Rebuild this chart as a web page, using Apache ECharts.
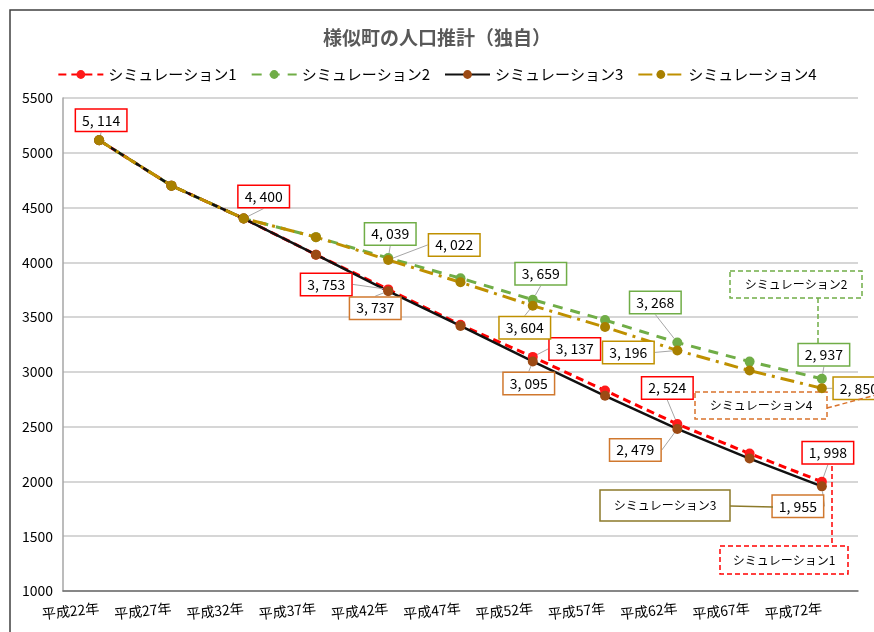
<!DOCTYPE html>
<html>
<head>
<meta charset="utf-8">
<script src="https://cdn.jsdelivr.net/npm/echarts@6/dist/echarts.min.js"></script>
<style>
  html, body { margin: 0; padding: 0; background: #fff; }
  #chart { width: 874px; height: 632px; }
</style>
</head>
<body>
<div id="chart"></div>
<script>
// categories and series values
const years = ['平成22年', '平成27年', '平成32年', '平成37年', '平成42年', '平成47年',
               '平成52年', '平成57年', '平成62年', '平成67年', '平成72年'];
const sim1 = [5114, 4700, 4400, 4070, 3753, 3430, 3137, 2830, 2524, 2254, 1998];
const sim2 = [5114, 4700, 4400, 4230, 4039, 3855, 3659, 3473, 3268, 3094, 2937];
const sim3 = [5114, 4700, 4400, 4070, 3737, 3420, 3095, 2782, 2479, 2209, 1955];
const sim4 = [5114, 4700, 4400, 4230, 4022, 3818, 3604, 3409, 3196, 3012, 2850];
const names = ['シミュレーション1', 'シミュレーション2', 'シミュレーション3', 'シミュレーション4'];

// label offsets (box centre relative to point), per series / data index
const labelPos = [
    {0: [2, -20], 2: [20, -22], 4: [-62, -5], 6: [42, -8], 8: [-10, -36], 10: [6, -29]},
    {4: [2, -24], 6: [8, -26], 8: [-22, -40], 10: [2, -24]},
    {4: [-13, 17], 6: [-4, 22], 8: [-42, 21], 10: [-24, 20]},
    {4: [66, -15], 6: [-8, 22], 8: [-49, 2], 10: [37, 0]}
];
const boxColors = ['#ff0000', '#70ad47', '#d0782e', '#bf9000'];

const FONT = '"Noto Sans CJK JP", "Noto Sans", sans-serif';

function fmt(v) {
    return v.toLocaleString('en-US').replace(',', ', ');
}

function makeData(values, si) {
    return values.map(function (v, i) {
        if (!labelPos[si][i]) return v;
        return {
            value: v,
            label: {
                show: true,
                position: 'inside',
                formatter: fmt(v),
                color: '#000',
                fontSize: 14,
                fontFamily: FONT,
                backgroundColor: '#fff',
                borderColor: boxColors[si],
                borderWidth: 1.5,
                padding: [4, 6, 3, 6]
            }
        };
    });
}

function lineSeries(si, values, lineColor, markColor, type, width) {
    return {
        name: names[si],
        type: 'line',
        data: makeData(values, si),
        symbol: 'circle',
        symbolSize: 10,
        animation: false,
        lineStyle: {color: lineColor, width: width, type: type},
        itemStyle: {color: markColor},
        label: {show: false},
        labelLine: {show: true, lineStyle: {color: '#a6a6a6', width: 1}},
        labelLayout: function (params) {
            const o = labelPos[si][params.dataIndex];
            if (!o) return {};
            return {dx: o[0], dy: o[1]};
        }
    };
}

function callout(text, x, y, w, h, color, dashed) {
    return {
        type: 'group',
        z: 100,
        children: [
            {
                type: 'rect',
                shape: {x: x, y: y, width: w, height: h},
                style: {fill: '#fff', stroke: color, lineWidth: 1.5, lineDash: dashed ? [5, 3] : null}
            },
            {
                type: 'text',
                style: {
                    text: text, x: x + w / 2, y: y + h / 2,
                    textAlign: 'center', textVerticalAlign: 'middle',
                    font: '12px ' + FONT, fill: '#000'
                }
            }
        ]
    };
}

function connector(points, color, dashed) {
    return {
        type: 'polyline',
        z: 99,
        shape: {points: points},
        style: {stroke: color, lineWidth: 1.5, lineDash: dashed ? [5, 3] : null, fill: null}
    };
}

var myChart = echarts.init(document.getElementById('chart'));

var option = {
    backgroundColor: '#fff',
    textStyle: {fontFamily: FONT},
    title: {
        text: '様似町の人口推計（独自）',
        left: 'center',
        top: 23,
        textStyle: {fontSize: 19, fontWeight: 'bold', color: '#595959', fontFamily: FONT}
    },
    legend: {
        data: names,
        top: 62,
        left: 'center',
        itemWidth: 45,
        itemHeight: 11,
        itemGap: 14,
        textStyle: {fontSize: 15, color: '#000', fontFamily: FONT}
    },
    grid: {left: 63, right: 16, top: 98, bottom: 41},
    xAxis: {
        type: 'category',
        data: years,
        boundaryGap: true,
        axisLine: {lineStyle: {color: '#6e6e6e', width: 1.5}},
        axisTick: {show: false},
        axisLabel: {rotate: 6, margin: 17, fontSize: 14, color: '#000', fontFamily: FONT, interval: 0}
    },
    yAxis: {
        type: 'value',
        min: 1000,
        max: 5500,
        interval: 500,
        axisLine: {show: true, lineStyle: {color: '#a6a6a6', width: 1.5}},
        axisTick: {show: false},
        axisLabel: {
            fontSize: 14, color: '#000', margin: 10, fontFamily: FONT,
            formatter: function (v) { return String(v); }
        },
        splitLine: {lineStyle: {color: '#c8c8c8', width: 1.5}}
    },
    series: [
        lineSeries(0, sim1, '#ff0000', '#ff1a1a', [8, 5], 3),
        lineSeries(1, sim2, '#70ad47', '#70ad47', [10, 8], 3),
        lineSeries(2, sim3, '#111111', '#9c4a14', 'solid', 2.5),
        lineSeries(3, sim4, '#bf9000', '#a88000', [14, 6, 3, 6], 3)
    ],
    graphic: [
        {
            type: 'rect',
            z: 0,
            shape: {x: 10, y: 10, width: 900, height: 660},
            style: {fill: null, stroke: '#404040', lineWidth: 1.5}
        },
        connector([[818, 298], [818, 343]], '#70ad47', true),
        callout('シミュレーション2', 730, 271, 132, 27, '#70ad47', true),
        connector([[827, 408], [876, 395]], '#d9732c', true),
        callout('シミュレーション4', 695, 392, 132, 27, '#d9732c', true),
        connector([[730, 506], [773, 507]], '#8c7a2a', false),
        callout('シミュレーション3', 600, 490, 130, 31, '#8c7a2a', false),
        connector([[832, 466], [832, 546]], '#ff0000', true),
        callout('シミュレーション1', 720, 546, 128, 28, '#ff0000', true)
    ]
};

myChart.setOption(option);
</script>
</body>
</html>
